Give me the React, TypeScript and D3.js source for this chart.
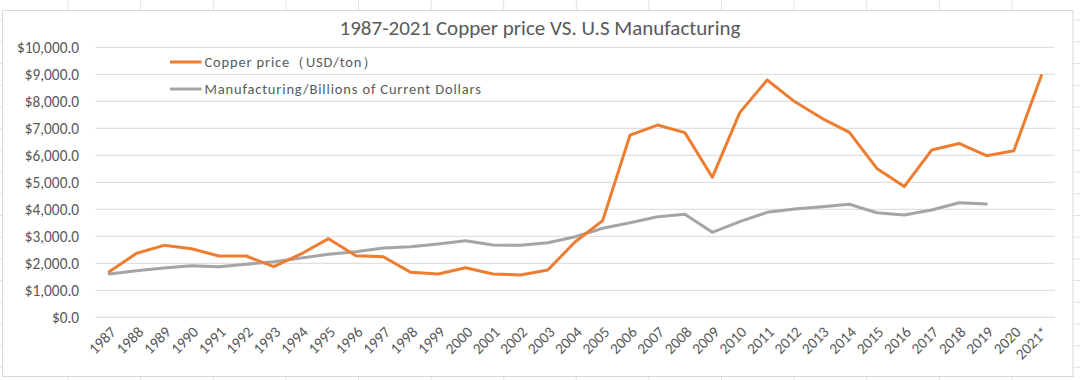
import React from "react";
import * as d3 from "d3";

const years = ["1987","1988","1989","1990","1991","1992","1993","1994","1995","1996","1997","1998","1999","2000","2001","2002","2003","2004","2005","2006","2007","2008","2009","2010","2011","2012","2013","2014","2015","2016","2017","2018","2019","2020","2021*"];
const copperPrice: (number | null)[] = [1690,2370,2665,2540,2270,2270,1875,2345,2912,2283,2245,1665,1604,1838,1604,1567,1752,2800,3580,6750,7120,6840,5185,7580,8790,7990,7370,6850,5515,4840,6195,6440,5985,6170,8950];
const manufacturing: (number | null)[] = [1604,1727,1826,1912,1875,1963,2060,2196,2333,2430,2566,2615,2715,2837,2678,2666,2763,2985,3296,3504,3726,3814,3148,3541,3888,4011,4096,4185,3874,3789,3974,4244,4196,null,null];
const yTicks = [0,1000,2000,3000,4000,5000,6000,7000,8000,9000,10000];
const seriesNames = ["Copper price（USD/ton）", "Manufacturing/Billions of Current Dollars"];
const seriesColors = ["#ED7D31", "#A5A5A5"];
const title = "1987-2021 Copper price VS. U.S Manufacturing";

const W = 1080, H = 380;
const plot = { left: 95.5, right: 1055, top: 47.3, bottom: 317.3 };
const FONT = "Carlito, Calibri, sans-serif";
const TEXT = "#595959";

export default function App() {
  const x = d3.scaleBand<string>().domain(years).range([plot.left, plot.right]);
  const y = d3.scaleLinear().domain([0, 10000]).range([plot.bottom, plot.top]);
  const cx = (d: string) => (x(d) as number) + x.bandwidth() / 2;
  const fmt = (v: number) => "$" + d3.format(",.1f")(v);

  const mkLine = (vals: (number | null)[]) =>
    d3.line<number | null>()
      .defined((d) => d !== null)
      .x((_, i) => cx(years[i]))
      .y((d) => y(d as number))(vals) || "";

  const cellCols = d3.range(-4.5, W, 72.6);
  const cellRows = d3.range(-1.5, H, 21.7);

  return (
    <svg width={W} height={H} style={{ position: "absolute", left: 0, top: 0, background: "#fff" }} fontFamily={FONT}>
      {cellCols.map((c, i) => (
        <line key={"cc" + i} x1={c} x2={c} y1={0} y2={H} stroke="#e3e3e3" strokeWidth={1} />
      ))}
      {cellRows.map((r, i) => (
        <line key={"cr" + i} x1={0} x2={W} y1={r} y2={r} stroke="#e3e3e3" strokeWidth={1} />
      ))}
      <rect x={2.5} y={10.5} width={1070.5} height={366} fill="#fff" stroke="#d9d9d9" strokeWidth={1} />
      <text x={540} y={35} textAnchor="middle" fontSize={21} fill={TEXT}>{title}</text>
      {yTicks.map((t) => (
        <g key={t}>
          <line x1={plot.left} x2={plot.right} y1={y(t)} y2={y(t)} stroke="#d9d9d9" strokeWidth={1} />
          <text x={79} y={y(t)} dy="0.35em" textAnchor="end" fontSize={15.3} fill={TEXT}>{fmt(t)}</text>
        </g>
      ))}
      {years.map((yr) => (
        <text key={yr} transform={`translate(${cx(yr) + 4},${plot.bottom + 12}) rotate(-45)`} textAnchor="end" dy="0.35em" fontSize={15.3} fill={TEXT}>{yr}</text>
      ))}
      <path d={mkLine(manufacturing)} fill="none" stroke={seriesColors[1]} strokeWidth={3} strokeLinejoin="round" strokeLinecap="round" />
      <path d={mkLine(copperPrice)} fill="none" stroke={seriesColors[0]} strokeWidth={3} strokeLinejoin="round" strokeLinecap="round" />
      {seriesNames.map((n, i) => (
        <g key={n} transform={`translate(170,${62 + i * 27})`}>
          <line x1={0} x2={31.5} y1={0} y2={0} stroke={seriesColors[i]} strokeWidth={3} />
          <text x={34.5} y={0} dy="0.35em" fontSize={14.5} letterSpacing={0.84} fill={TEXT}>{n}</text>
        </g>
      ))}
    </svg>
  );
}
